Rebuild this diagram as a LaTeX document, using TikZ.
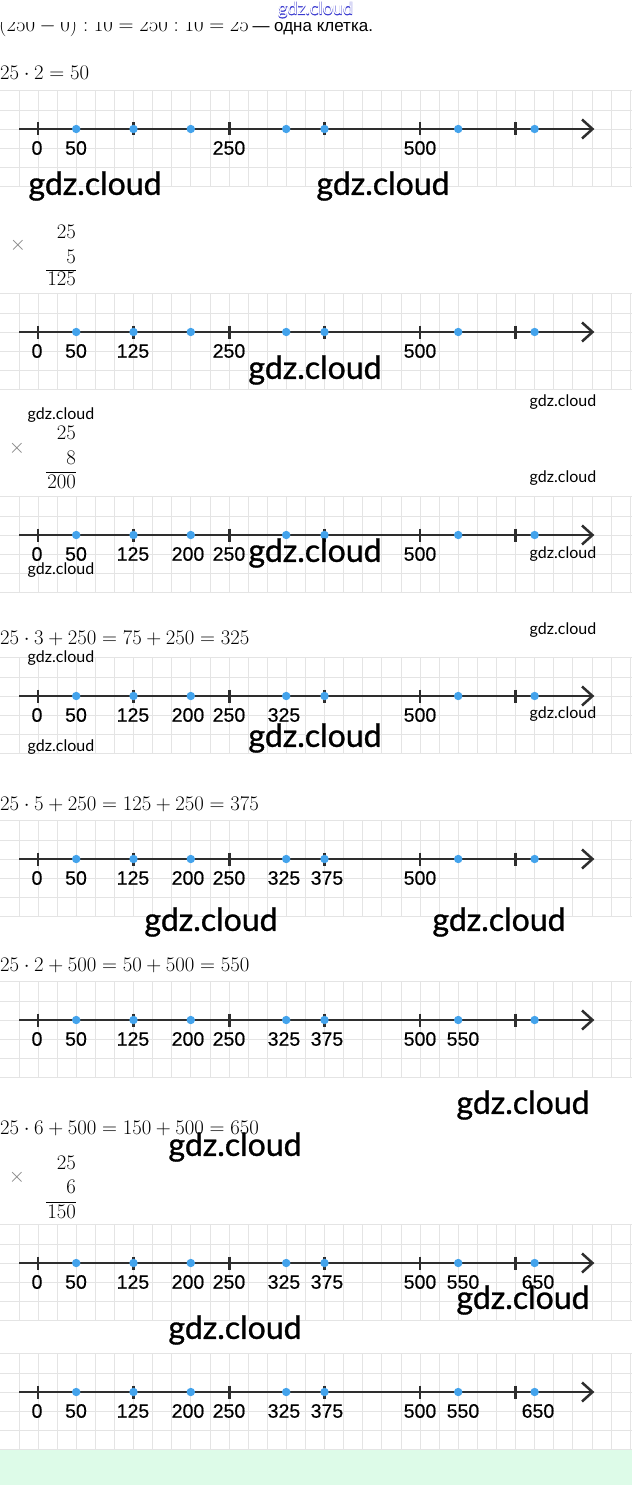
\documentclass[tikz,border=0pt]{standalone}
\usepackage[no-math]{fontspec}
\newfontfamily\lsans{Liberation Sans}
\newfontfamily\lsansb{Liberation Sans}[FakeBold=0.4]
\newfontfamily\lato{Lato}
\newfontfamily\latobig{Lato}[FakeBold=0.9]
\newfontfamily\latoout{Lato}[FakeBold=2.5]
\definecolor{gridc}{HTML}{E4E4E4}
\definecolor{axisc}{HTML}{2E2E2E}
\definecolor{dotc}{HTML}{43A3EC}
\definecolor{greenbg}{HTML}{DDFBE8}
\definecolor{wmblue}{HTML}{3A3AD0}
\definecolor{timesc}{HTML}{808080}
\tikzset{
  gridline/.style={draw=gridc, line width=0.7pt},
  axisline/.style={draw=axisc, line width=2.5pt},
  tickline/.style={draw=axisc, line width=2.2pt},
  lab/.style={font=\lsansb\fontsize{19.5}{19.5}\selectfont, inner sep=0pt, anchor=center, text=black},
  eq/.style={font=\fontsize{20}{24}\selectfont, inner sep=0pt, anchor=base west},
  mnum/.style={font=\fontsize{20}{24}\selectfont, inner sep=0pt, anchor=base east},
  times/.style={font=\fontsize{20}{20}\selectfont, inner sep=0pt, text=timesc},
  bigwm/.style={font=\latobig\fontsize{32}{32}\selectfont, inner sep=0pt, text=black},
  smallwm/.style={font=\lato\fontsize{16}{16}\selectfont, inner sep=0pt, text=black},
}
\begin{document}
\begin{tikzpicture}[x=1pt,y=-1pt]
\useasboundingbox (0,0) rectangle (632,1485);
\fill[white] (0,0) rectangle (632,1485);
\fill[greenbg] (0,1450) rectangle (632,1485);
% number line bands
\foreach \ay/\labs in {
  129/{0/37,50/76,250/229,500/420},
  332/{0/37,50/76,125/133,250/229,500/420},
  535/{0/37,50/76,125/133,200/188,250/229,500/420},
  696/{0/37,50/76,125/133,200/188,250/229,325/284,500/420},
  859/{0/37,50/76,125/133,200/188,250/229,325/284,375/327,500/420},
  1020/{0/37,50/76,125/133,200/188,250/229,325/284,375/327,500/420,550/463},
  1263/{0/37,50/76,125/133,200/188,250/229,325/284,375/327,500/420,550/463,650/538},
  1392/{0/37,50/76,125/133,200/188,250/229,325/284,375/327,500/420,550/463,650/538}} {
  \foreach \k in {0,...,33} \draw[gridline] ({-0.2+19.1*\k},{\ay-38.2}) -- ++(0,95.5);
  \foreach \k in {0,...,5} \draw[gridline] (0,{\ay-38.2+19.1*\k}) -- (632,{\ay-38.2+19.1*\k});
  \draw[axisline] (19,\ay) -- (591,\ay);
  \draw[axisline, line join=miter] (582,{\ay-9.5}) -- (592.5,\ay) -- (582,{\ay+9.5});
  \foreach \x in {38,133.5,229.5,324.5,420,515.5} \draw[tickline] (\x,{\ay-6.5}) -- (\x,{\ay+6.5});
  \foreach \x in {76.2,133.5,190.8,286.2,324.5,458.2,534.6} \fill[dotc] (\x,\ay) circle (4.2);
  \foreach \t/\x in \labs \node[lab] at (\x,{\ay+19}) {\t};
}
% top line (clipped)
\node[eq] (top) at (-1,31.5) {$(250-0):10=250:10=25$\,{\lsans\fontsize{17}{17}\selectfont — одна клетка.}};
\fill[white] (0,0) rectangle (632,22.5);
\node[font=\latoout\fontsize{18}{18}\selectfont, text=wmblue, inner sep=0pt, anchor=base west] (wmtopo) at (278,15) {gdz.cloud};
\node[font=\lato\fontsize{18}{18}\selectfont, text=white, inner sep=0pt, anchor=base west] (wmtop) at (278,15) {gdz.cloud};
% equations
\node[eq] (e1) at (0,80) {$25\cdot 2=50$};
\node[eq] (e4) at (0,644) {$25\cdot 3+250=75+250=325$};
\node[eq] (e5) at (0,810) {$25\cdot 5+250=125+250=375$};
\node[eq] (e6) at (0,971) {$25\cdot 2+500=50+500=550$};
\node[eq] (e7) at (0,1134) {$25\cdot 6+500=150+500=650$};
% multiplication blocks
\node[times] (x1) at (18,245) {$\times$};
\node[mnum] (a1) at (76,238.5) {$25$};
\node[mnum] (b1) at (76,263.5) {$5$};
\draw[line width=0.6pt] (46,270) -- (76,270);
\node[mnum] (c1) at (76,285.5) {$125$};
\node[times] (x2) at (17,448) {$\times$};
\node[mnum] (a2) at (76,439.5) {$25$};
\node[mnum] (b2) at (76,464.5) {$8$};
\draw[line width=0.6pt] (46,472) -- (76,472);
\node[mnum] (c2) at (76,488.5) {$200$};
\node[times] (x3) at (17,1177) {$\times$};
\node[mnum] (a3) at (76,1169.5) {$25$};
\node[mnum] (b3) at (76,1193.5) {$6$};
\draw[line width=0.6pt] (46,1202) -- (76,1202);
\node[mnum] (c3) at (76,1218.5) {$150$};
% watermarks
\foreach \x/\y [count=\i] in {95/186,383/186,315/370,315/553,315/738,211/922,499/922,523/1105,235/1147,523/1300,235/1330}
  \node[bigwm] (bw\i) at (\x,\y) {gdz.cloud};
\foreach \x/\y [count=\i] in {61/415,563/402,563/478,563/554,61/570,563/630,61/658,563/714,61/747}
  \node[smallwm] (sw\i) at (\x,\y) {gdz.cloud};
\end{tikzpicture}
\end{document}
